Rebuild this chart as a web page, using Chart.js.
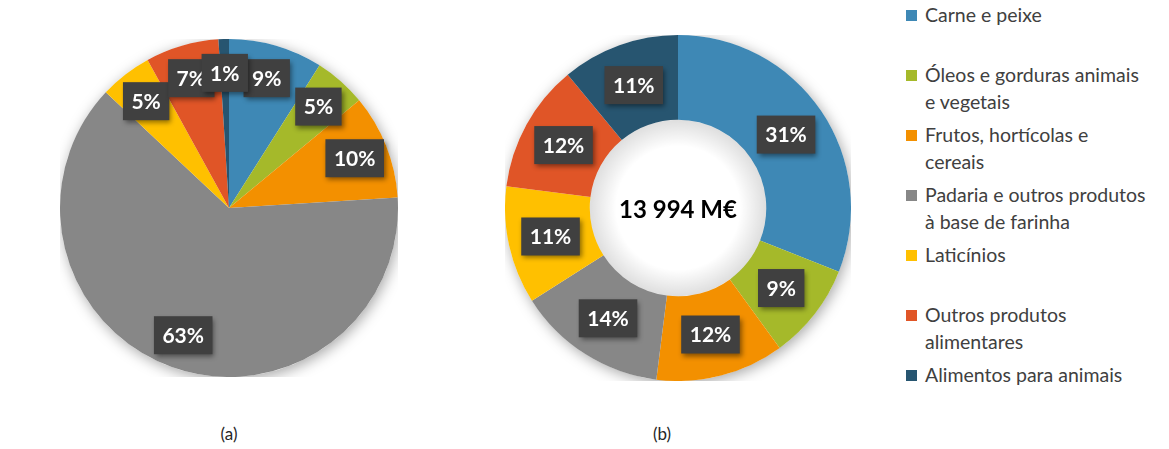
<!DOCTYPE html>
<html>
<head>
<meta charset="utf-8">
<script src="https://cdn.jsdelivr.net/npm/chart.js@4/dist/chart.umd.min.js"></script>
<style>
  body { margin: 0; background: #fff; font-family: Lato, sans-serif; }
  #wrap { position: relative; width: 1169px; height: 449px; overflow: hidden; }
  .box { position: absolute; }
  #pieBox { left: 60px; top: 39px; width: 338px; height: 338px; }
  #donutBox { left: 505px; top: 35px; width: 346px; height: 346px; }
  .cap { position: absolute; top: 423px; font-size: 17px; color: #262626; width: 40px; text-align: center; }
  #legend { position: absolute; left: 906px; top: 0; }
  .item { position: absolute; left: 0; width: 260px; }
  .sw { position: absolute; left: 0; width: 11px; height: 11px; }
  .txt { position: absolute; left: 19px; font-size: 19.5px; line-height: 27px; color: #404040; white-space: nowrap; }
</style>
</head>
<body>
<div id="wrap">
  <div class="box" id="pieBox"><canvas id="pie"></canvas></div>
  <div class="box" id="donutBox"><canvas id="donut"></canvas></div>
  <div class="cap" style="left:209px">(a)</div>
  <div class="cap" style="left:642px">(b)</div>
  <div id="legend"></div>
</div>
<script>
// categories
const categories = [
  'Carne e peixe',
  'Óleos e gorduras animais e vegetais',
  'Frutos, hortícolas e cereais',
  'Padaria e outros produtos à base de farinha',
  'Laticínios',
  'Outros produtos alimentares',
  'Alimentos para animais'
];
// how the legend text wraps
const legendLines = [
  ['Carne e peixe'],
  ['Óleos e gorduras animais', 'e vegetais'],
  ['Frutos, hortícolas e', 'cereais'],
  ['Padaria e outros produtos', 'à base de farinha'],
  ['Laticínios'],
  ['Outros produtos', 'alimentares'],
  ['Alimentos para animais']
];
const colors = ['#3E88B5', '#A5B92A', '#F39000', '#878787', '#FFC000', '#E05527', '#275570'];

// (a) shares, %
const sharesA = [9, 5, 10, 63, 5, 7, 1];
// (b) shares, %
const sharesB = [31, 9, 12, 14, 11, 12, 11];
const totalB = '13 994 M€';

// legend
const legend = document.getElementById('legend');
legendLines.forEach((lines, i) => {
  const it = document.createElement('div');
  it.className = 'item';
  it.style.top = (1 + i * 60) + 'px';
  it.innerHTML = '<div class="sw" style="top:9px;background:' + colors[i] + '"></div>' +
    '<div class="txt" style="top:0">' + lines.join('<br>') + '</div>';
  legend.appendChild(it);
});

// soft shadow behind the pie
const shadowPlugin = {
  id: 'shadowDisk',
  beforeDatasetsDraw(chart) {
    const arc = chart.getDatasetMeta(0).data[0];
    if (!arc) return;
    const ctx = chart.ctx;
    ctx.save();
    ctx.shadowColor = 'rgba(0,0,0,0.35)';
    ctx.shadowBlur = 14;
    ctx.shadowOffsetX = 2;
    ctx.shadowOffsetY = 3;
    ctx.fillStyle = '#fff';
    ctx.beginPath();
    ctx.arc(arc.x, arc.y, arc.outerRadius, 0, Math.PI * 2);
    ctx.fill();
    ctx.restore();
  },
  afterDatasetsDraw(chart) {
    const arc = chart.getDatasetMeta(0).data[0];
    if (!arc || !arc.innerRadius) return;
    const ctx = chart.ctx;
    const g = ctx.createRadialGradient(arc.x, arc.y, arc.innerRadius * 0.7, arc.x, arc.y, arc.innerRadius);
    g.addColorStop(0, 'rgba(0,0,0,0)');
    g.addColorStop(1, 'rgba(0,0,0,0.13)');
    ctx.save();
    ctx.fillStyle = g;
    ctx.beginPath();
    ctx.arc(arc.x, arc.y, arc.innerRadius, 0, Math.PI * 2);
    ctx.fill();
    ctx.restore();
  }
};

// dark boxed percentage labels
const boxLabels = {
  id: 'boxLabels',
  afterDatasetsDraw(chart, args, opts) {
    const ctx = chart.ctx;
    const meta = chart.getDatasetMeta(0);
    const data = chart.data.datasets[0].data;
    ctx.save();
    ctx.font = 'bold 21px Lato';
    ctx.textAlign = 'center';
    ctx.textBaseline = 'middle';
    meta.data.forEach((arc, i) => {
      const p = arc.getProps(['x', 'y', 'startAngle', 'endAngle', 'innerRadius', 'outerRadius'], true);
      const mid = (p.startAngle + p.endAngle) / 2;
      const r = p.innerRadius + (p.outerRadius - p.innerRadius) * opts.factor;
      const cx = p.x + Math.cos(mid) * r;
      const cy = p.y + Math.sin(mid) * r;
      const text = data[i] + '%';
      const w = ctx.measureText(text).width + 17;
      const h = 38;
      ctx.save();
      ctx.shadowColor = 'rgba(0,0,0,0.45)';
      ctx.shadowBlur = 5;
      ctx.shadowOffsetX = 2;
      ctx.shadowOffsetY = 3;
      ctx.fillStyle = '#404040';
      ctx.fillRect(cx - w / 2, cy - h / 2, w, h);
      ctx.restore();
      ctx.fillStyle = '#fff';
      ctx.fillText(text, cx, cy + 1);
    });
    if (opts.center) {
      ctx.fillStyle = '#000';
      ctx.font = 'bold 24px Lato';
      ctx.fillText(opts.center, meta.data[0].x, meta.data[0].y + 2);
    }
    ctx.restore();
  }
};

function makeChart(id, values, type, factor, center) {
  return new Chart(document.getElementById(id), {
    type: type,
    data: {
      labels: categories,
      datasets: [{
        data: values,
        backgroundColor: colors,
        borderWidth: 0
      }]
    },
    options: {
      responsive: true,
      maintainAspectRatio: false,
      animation: false,
      cutout: type === 'doughnut' ? '51%' : 0,
      layout: { padding: 0 },
      plugins: {
        legend: { display: false },
        tooltip: { enabled: false },
        boxLabels: { factor: factor, center: center }
      }
    },
    plugins: [shadowPlugin, boxLabels]
  });
}

makeChart('pie', sharesA, 'pie', 0.8, null);
makeChart('donut', sharesB, 'doughnut', 0.5, totalB);
</script>
</body>
</html>
